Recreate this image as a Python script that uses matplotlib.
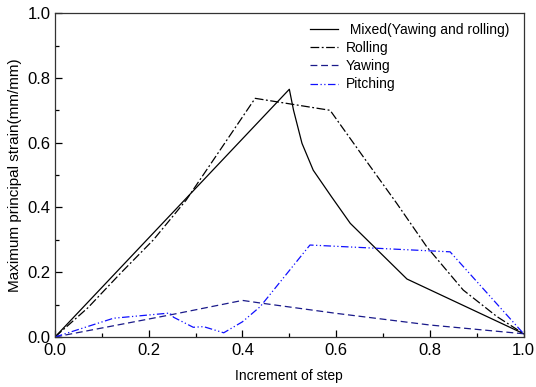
import matplotlib
matplotlib.use('Agg')
import matplotlib.pyplot as plt
from matplotlib.ticker import MultipleLocator

plt.rcParams['font.family'] = ['Liberation Sans', 'DejaVu Sans']

# data
mixed_x = [0.0, 0.50, 0.509, 0.527, 0.551, 0.59, 0.63, 0.751, 1.0]
mixed_y = [0.0, 0.765, 0.70, 0.598, 0.515, 0.433, 0.351, 0.179, 0.01]

rolling_x = [0.0, 0.07, 0.14, 0.21, 0.28, 0.427, 0.587, 0.658, 0.729, 0.793, 0.871, 0.943, 1.0]
rolling_y = [0.0, 0.09, 0.197, 0.30, 0.423, 0.737, 0.70, 0.556, 0.413, 0.279, 0.145, 0.063, 0.01]

yawing_x = [0.0, 0.245, 0.40, 0.438, 0.60, 0.80, 1.0]
yawing_y = [0.0, 0.068, 0.113, 0.105, 0.073, 0.037, 0.01]

pitching_x = [0.0, 0.125, 0.245, 0.253, 0.295, 0.317, 0.36, 0.40, 0.438, 0.544, 0.843, 1.0]
pitching_y = [0.0, 0.058, 0.074, 0.061, 0.03, 0.032, 0.013, 0.047, 0.094, 0.284, 0.263, 0.01]

fig = plt.figure(figsize=(5.36, 3.87), dpi=100)
ax = fig.add_axes([0.1026, 0.1292, 0.8744, 0.8368])

lw = 0.9
ax.plot(mixed_x, mixed_y, color='black', lw=lw, label=' Mixed(Yawing and rolling)')
ax.plot(rolling_x, rolling_y, color='black', lw=lw, linestyle=(0, (7, 2, 1.5, 2)), label='Rolling')
ax.plot(yawing_x, yawing_y, color='#1a1a8a', lw=lw, linestyle=(0, (5.5, 3)), label='Yawing')
ax.plot(pitching_x, pitching_y, color='#1010ff', lw=lw, linestyle=(0, (6, 2, 1, 2, 1, 2)), label='Pitching')

ax.set_xlim(0, 1.0)
ax.set_ylim(0, 1.0)
ax.xaxis.set_major_locator(MultipleLocator(0.2))
ax.xaxis.set_minor_locator(MultipleLocator(0.1))
ax.yaxis.set_major_locator(MultipleLocator(0.2))
ax.yaxis.set_minor_locator(MultipleLocator(0.1))
ax.tick_params(which='both', direction='in', top=False, right=False, labelsize=12)
ax.tick_params(axis='x', pad=4)
ax.tick_params(axis='y', pad=3)
ax.tick_params(which='major', length=5, width=0.9)
ax.tick_params(which='minor', length=3, width=0.9)
for s in ax.spines.values():
    s.set_linewidth(0.9)
    s.set_color('#333333')

ax.set_xlabel('Increment of step', fontsize=10, labelpad=8)
ax.set_ylabel('Maximum principal strain(mm/mm)', fontsize=11, labelpad=4)

ax.legend(loc='upper right', bbox_to_anchor=(0.99, 1.0), frameon=False, fontsize=10,
          handlelength=2.0, handletextpad=0.6, labelspacing=0.3, borderaxespad=0.3)

fig.savefig('out.png', dpi=100)
